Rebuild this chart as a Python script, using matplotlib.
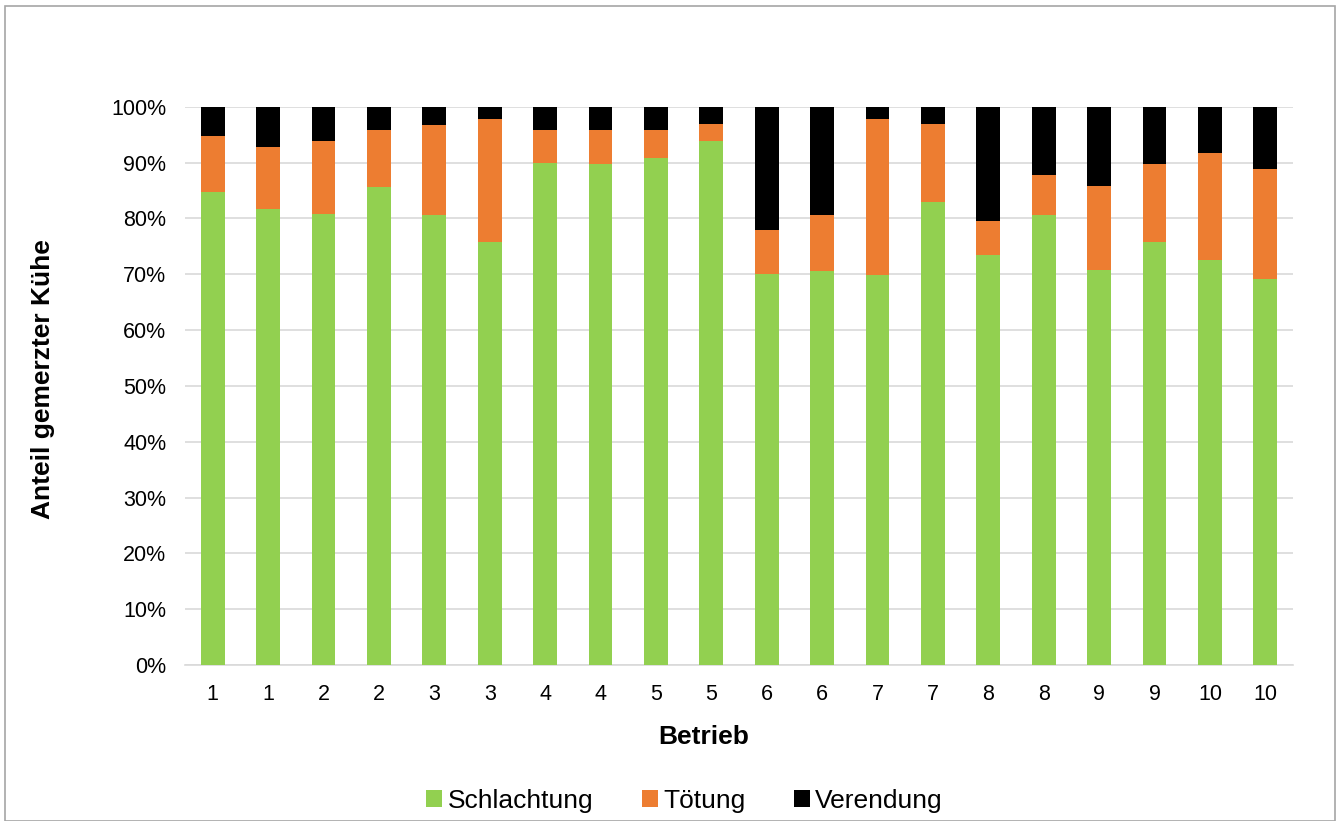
import matplotlib.pyplot as plt
import numpy as np
from matplotlib.patches import Rectangle

plt.rcParams['font.family'] = ['Liberation Sans', 'DejaVu Sans']

betriebe = ['1', '1', '2', '2', '3', '3', '4', '4', '5', '5',
            '6', '6', '7', '7', '8', '8', '9', '9', '10', '10']
schlachtung = [84.7, 81.6, 80.8, 85.7, 80.6, 75.8, 90.0, 89.8, 90.8, 93.9,
               70.1, 70.5, 69.8, 83.0, 73.5, 80.6, 70.8, 75.8, 72.6, 69.2]
toetung = [10.0, 11.1, 13.0, 10.1, 16.1, 22.0, 5.8, 6.0, 5.0, 3.0,
           7.9, 10.1, 28.0, 13.9, 6.1, 7.1, 15.0, 14.0, 19.1, 19.7]
verendung = [5.3, 7.3, 6.2, 4.2, 3.3, 2.2, 4.2, 4.2, 4.2, 3.1,
             22.0, 19.4, 2.2, 3.1, 20.4, 12.3, 14.2, 10.2, 8.3, 11.1]

gruen = '#92d050'
orange = '#ed7d31'
schwarz = '#000000'

fig = plt.figure(figsize=(13.43, 8.21), dpi=100)
ax = fig.add_axes([185 / 1343, 1 - 665 / 821, (1293 - 185) / 1343, (665 - 106.7) / 821])

x = np.arange(len(betriebe))
s = np.array(schlachtung)
t = np.array(toetung)
v = np.array(verendung)
w = 0.43
ax.bar(x, s, w, color=gruen, label='Schlachtung', zorder=3)
ax.bar(x, t, w, bottom=s, color=orange, label='Tötung', zorder=3)
ax.bar(x, v, w, bottom=s + t, color=schwarz, label='Verendung', zorder=3)

ax.set_xlim(-0.5, len(betriebe) - 0.5)
ax.set_ylim(0, 100)
ax.set_yticks(np.arange(0, 101, 10))
ax.set_yticklabels([f'{p}%' for p in range(0, 101, 10)], fontsize=15.5)
ax.set_xticks(x)
ax.set_xticklabels(betriebe, fontsize=15.5)
ax.tick_params(axis='y', length=0, pad=13.5)
ax.tick_params(axis='x', length=0, pad=14)
ax.yaxis.grid(True, color='#d9d9d9', linewidth=1.2, zorder=0)
for sp in ['top', 'right', 'left']:
    ax.spines[sp].set_visible(False)
ax.spines['bottom'].set_color('#d9d9d9')
ax.spines['bottom'].set_linewidth(1.2)

ax.set_xlabel('Betrieb', fontsize=19, fontweight='bold')
ax.xaxis.set_label_coords(0.468, -0.129)
ax.xaxis.label.set_va('center')
ax.set_ylabel('Anteil gemerzter Kühe', fontsize=19, fontweight='bold')
ax.yaxis.set_label_coords(-0.128, 0.512)
ax.yaxis.label.set_va('center')

ax.legend(loc='center', bbox_to_anchor=(0.451, -0.243), ncol=3, frameon=False,
          fontsize=19, handlelength=0.6, handleheight=0.6, handletextpad=0.2,
          columnspacing=1.85)

# Rahmen um das Diagramm
fig.patches.append(Rectangle((5 / 1343, 0), 1330 / 1343, 1 - 6 / 821, transform=fig.transFigure,
                             fill=False, edgecolor='#a6a6a6', linewidth=1.2))

fig.savefig('out.png', dpi=100)
